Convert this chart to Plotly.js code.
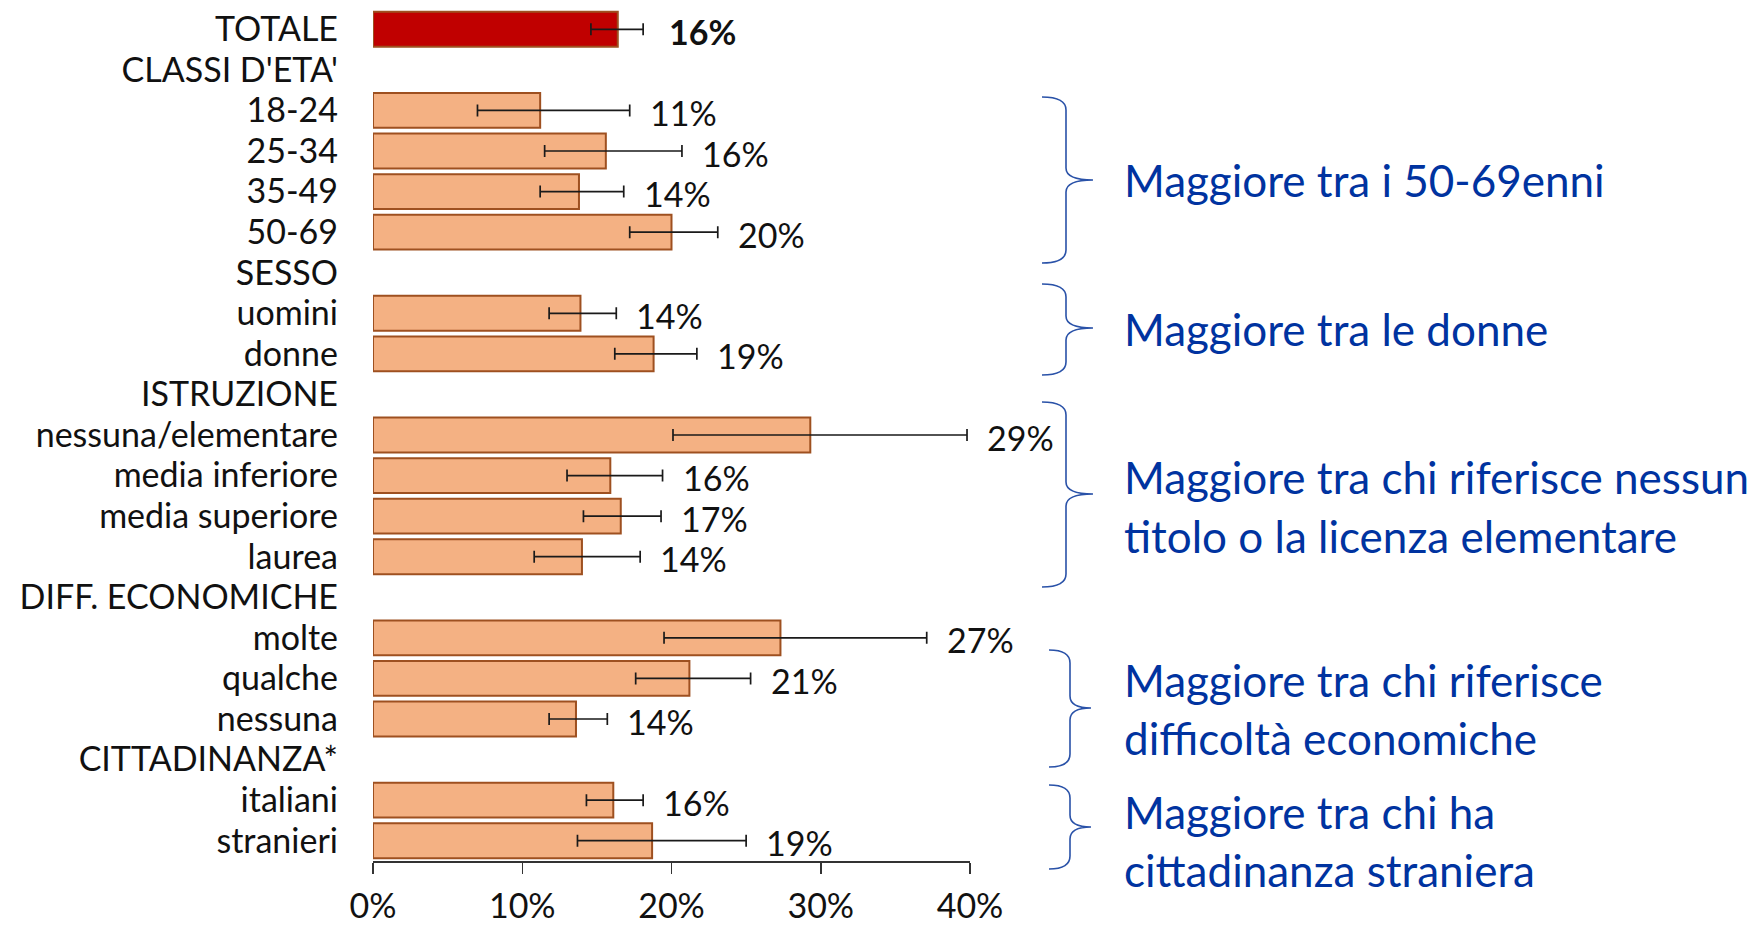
<!DOCTYPE html>
<html>
<head>
<meta charset="utf-8">
<script src="https://cdn.plot.ly/plotly-3.0.1.min.js"></script>
<style>
  html, body { margin: 0; padding: 0; background: #ffffff; }
  #chart { width: 1762px; height: 926px; }
</style>
</head>
<body>
<div id="chart"></div>
<script>
// ---------- DATA ----------
const categories = ["TOTALE", "CLASSI D'ETA'", "18-24", "25-34", "35-49", "50-69",
  "SESSO", "uomini", "donne",
  "ISTRUZIONE", "nessuna/elementare", "media inferiore", "media superiore", "laurea",
  "DIFF. ECONOMICHE", "molte", "qualche", "nessuna",
  "CITTADINANZA*", "italiani", "stranieri"];

const values = [16.4, null, 11.2, 15.6, 13.8, 20.0,
  null, 13.9, 18.8,
  null, 29.3, 15.9, 16.6, 14.0,
  null, 27.3, 21.2, 13.6,
  null, 16.1, 18.7];

const ciLower = [14.6, null, 7.0, 11.5, 11.2, 17.2,
  null, 11.8, 16.2,
  null, 20.1, 13.0, 14.1, 10.8,
  null, 19.5, 17.6, 11.8,
  null, 14.3, 13.7];

const ciUpper = [18.1, null, 17.2, 20.7, 16.8, 23.1,
  null, 16.3, 21.7,
  null, 39.8, 19.4, 19.3, 17.9,
  null, 37.1, 25.3, 15.7,
  null, 18.1, 25.0];

const xTicks = [0, 10, 20, 30, 40];
const xTickLabels = ["0%", "10%", "20%", "30%", "40%"];

const notes = [
  "Maggiore tra i 50-69enni",
  "Maggiore tra le donne",
  "Maggiore tra chi riferisce nessun",
  "titolo o la licenza elementare",
  "Maggiore tra chi riferisce",
  "difficoltà economiche",
  "Maggiore tra chi ha",
  "cittadinanza straniera"
];

// ---------- STYLE / LAYOUT ----------
const FONT = "Lato, 'Open Sans', sans-serif";
const W = 1762, Hh = 926;
const M = { l: 373, r: 792, t: 9, b: 65 };
const PW = W - M.l - M.r, PH = Hh - M.t - M.b;
const px = x => (x - M.l) / PW;          // pixel -> paper x
const py = y => (Hh - M.b - y) / PH;     // pixel -> paper y

const barColors = categories.map((c, i) => i === 0 ? "#C00000" : "#F4B183");

const trace = {
  type: "bar",
  orientation: "h",
  y: categories,
  x: values,
  marker: { color: barColors, line: { color: "#9E5020", width: 2 } },
  error_x: {
    type: "data",
    symmetric: false,
    array: values.map((v, i) => v == null ? 0 : ciUpper[i] - v),
    arrayminus: values.map((v, i) => v == null ? 0 : v - ciLower[i]),
    color: "#1a1a1a",
    thickness: 1.7,
    width: 6
  },
  hoverinfo: "skip",
  showlegend: false
};

const annotations = [];
values.forEach((v, i) => {
  if (v == null) return;
  annotations.push({
    xref: "x", yref: "y",
    x: Math.max(v, ciUpper[i]), y: categories[i],
    xanchor: "left", yanchor: "middle",
    xshift: i === 0 ? 24 : 18, yshift: -2,
    showarrow: false,
    text: i === 0 ? "<b>" + Math.round(v) + "%</b>" : Math.round(v) + "%",
    font: { family: FONT, size: 34, color: "#111111" }
  });
});

// right-side notes (pixel y centers of each line)
const noteY = [181, 330, 478, 537, 681, 739, 813, 871];
notes.forEach((t, i) => {
  annotations.push({
    xref: "paper", yref: "paper",
    x: px(1122), y: py(noteY[i] - 1),
    xanchor: "left", yanchor: "middle",
    showarrow: false,
    text: t,
    font: { family: FONT, size: 44, color: "#0033A0" }
  });
});

// curly braces
function brace(x0, xm, xt, yTop, yTip, yBot) {
  const r = 13, rt = 12;
  const P = (x, y) => px(x).toFixed(5) + "," + py(y).toFixed(5);
  return "M" + P(x0, yTop) +
    " Q" + P(xm, yTop) + " " + P(xm, yTop + r) +
    " L" + P(xm, yTip - rt) +
    " Q" + P(xm, yTip) + " " + P(xt, yTip) +
    " Q" + P(xm, yTip) + " " + P(xm, yTip + rt) +
    " L" + P(xm, yBot - r) +
    " Q" + P(xm, yBot) + " " + P(x0, yBot);
}
const braceDefs = [
  [1042, 1066, 1093, 97, 180, 263],
  [1042, 1066, 1093, 284, 328, 375],
  [1042, 1066, 1093, 402, 494, 587],
  [1049, 1070, 1091, 650, 708, 767],
  [1049, 1070, 1091, 785, 827, 869]
];
const shapes = braceDefs.map(b => ({
  type: "path", xref: "paper", yref: "paper",
  path: brace(...b),
  line: { color: "#2A52A8", width: 1.6 }
}));

const layout = {
  width: W, height: Hh,
  margin: M,
  paper_bgcolor: "#ffffff",
  plot_bgcolor: "#ffffff",
  font: { family: FONT, size: 34, color: "#111111" },
  bargap: 0.14,
  xaxis: {
    range: [0, 40],
    tickvals: xTicks,
    ticktext: xTickLabels,
    showgrid: false, zeroline: false,
    showline: true, linecolor: "#333333", linewidth: 1.5,
    ticks: "outside", ticklen: 11, tickwidth: 1.5, tickcolor: "#333333",
    ticklabelstandoff: 4,
    tickfont: { family: FONT, size: 34, color: "#111111" },
    fixedrange: true
  },
  yaxis: {
    type: "category",
    categoryorder: "array",
    categoryarray: categories,
    tickmode: "array",
    tickvals: categories,
    ticktext: categories,
    range: [categories.length - 0.5, -0.5],
    showgrid: false, zeroline: false, showline: false,
    ticks: "",
    ticklabelstandoff: 34,
    tickfont: { family: FONT, size: 34, color: "#111111" },
    fixedrange: true
  },
  annotations: annotations,
  shapes: shapes
};

Plotly.newPlot("chart", [trace], layout, { displayModeBar: false, staticPlot: true });
</script>
</body>
</html>
